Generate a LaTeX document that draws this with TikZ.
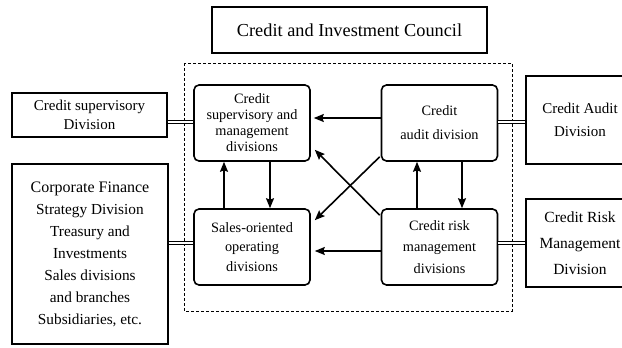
\documentclass[tikz,border=0pt]{standalone}
\usepackage{fontspec}
\setmainfont{Liberation Serif}
\usetikzlibrary{arrows.meta,calc}

\tikzset{
  outerbox/.style={draw, line width=1.3pt, rectangle, inner sep=0pt, align=center},
  unitbox/.style={draw, line width=1.6pt, rectangle, rounded corners=5pt,
    minimum width=116pt, minimum height=76pt, inner sep=0pt, align=center,
    font=\fontsize{14.3}{16}\selectfont},
  flow/.style={line width=1.6pt, -{Stealth[length=10pt,width=8pt,inset=1.5pt]}},
  link/.style={double, double distance=2.2pt, line width=1.1pt},
  frame/.style={dashed, line width=0.9pt, dash pattern=on 3pt off 2pt}
}

\begin{document}
\begin{tikzpicture}[x=1pt, y=-1pt]
  \useasboundingbox (0,0) rectangle (622,348);

  % council at the top
  \node[outerbox, minimum width=275pt, minimum height=46pt,
        font=\fontsize{18.3}{20}\selectfont] (council) at (349.5,30) {Credit and Investment Council};

  % dashed frame round the four units
  \draw[frame] (184,63) rectangle (512,311);

  % the four units inside the frame
  \node[unitbox] (sv) at (252,123)
    {Credit\\supervisory and\\management\\divisions};
  \node[unitbox, font=\fontsize{14.3}{24}\selectfont] (aud) at (439.5,123)
    {Credit\\audit division};
  \node[unitbox, font=\fontsize{14.3}{19.5}\selectfont] (sales) at (252,247)
    {Sales-oriented\\operating\\divisions};
  \node[unitbox, font=\fontsize{14.3}{21.5}\selectfont] (risk) at (439.5,247)
    {Credit risk\\management\\divisions};

  % outside divisions (the two on the right run past the page edge)
  \node[outerbox, minimum width=155pt, minimum height=44pt,
        font=\fontsize{15}{19}\selectfont] (lsup) at (89.5,115)
    {Credit supervisory\\Division};
  \node[outerbox, minimum width=156pt, minimum height=180pt,
        font=\fontsize{15.3}{22}\selectfont] (lcorp) at (90,254)
    {{\fontsize{16}{22}\selectfont Corporate Finance}\\Strategy Division\\
     Treasury and\\Investments\\
     Sales divisions\\and branches\\Subsidiaries, etc.};
  \node[outerbox, minimum width=108pt, minimum height=88pt,
        font=\fontsize{15}{23}\selectfont] (raud) at (580,120)
    {Credit Audit\\Division};
  \node[outerbox, minimum width=108pt, minimum height=88pt,
        font=\fontsize{15.5}{26}\selectfont] (rrisk) at (580,243)
    {Credit Risk\\Management\\Division};

  % attachment points of the double links on the units
  \coordinate (svlink) at ([yshift=1pt]sv.west);
  \coordinate (saleslink) at ([yshift=4pt]sales.west);
  \coordinate (audlink) at ([yshift=1pt]aud.east);
  \coordinate (risklink) at ([yshift=4pt]risk.east);

  % double links between the outside divisions and the units
  \draw[link] (lsup.east |- svlink) -- (svlink);
  \draw[link] (lcorp.east |- saleslink) -- (saleslink);
  \draw[link] (raud.west |- audlink) -- (audlink);
  \draw[link] (rrisk.west |- risklink) -- (risklink);

  % reporting arrows between the units
  \draw[flow, shorten >=3pt] ([yshift=5pt]aud.west) -- ([yshift=5pt]sv.east);
  \draw[flow] ([xshift=18pt]sv.south) -- ([xshift=18pt]sales.north);
  \draw[flow] ([xshift=-28pt]sales.north) -- ([xshift=-28pt]sv.south);
  \draw[flow] ([xshift=22.5pt]aud.south) -- ([xshift=22.5pt]risk.north);
  \draw[flow] ([xshift=-22.5pt]risk.north) -- ([xshift=-22.5pt]aud.south);
  \draw[flow, shorten >=4pt] ([yshift=-4pt]risk.west) -- ([yshift=-4pt]sales.east);
  \draw[flow] ($(aud.south west)+(-1,-5)$) -- ($(sales.north east)+(4,12)$);
  \draw[flow] ($(risk.north west)+(-1,7)$) -- ($(sv.south east)+(4,-12)$);
\end{tikzpicture}
\end{document}
